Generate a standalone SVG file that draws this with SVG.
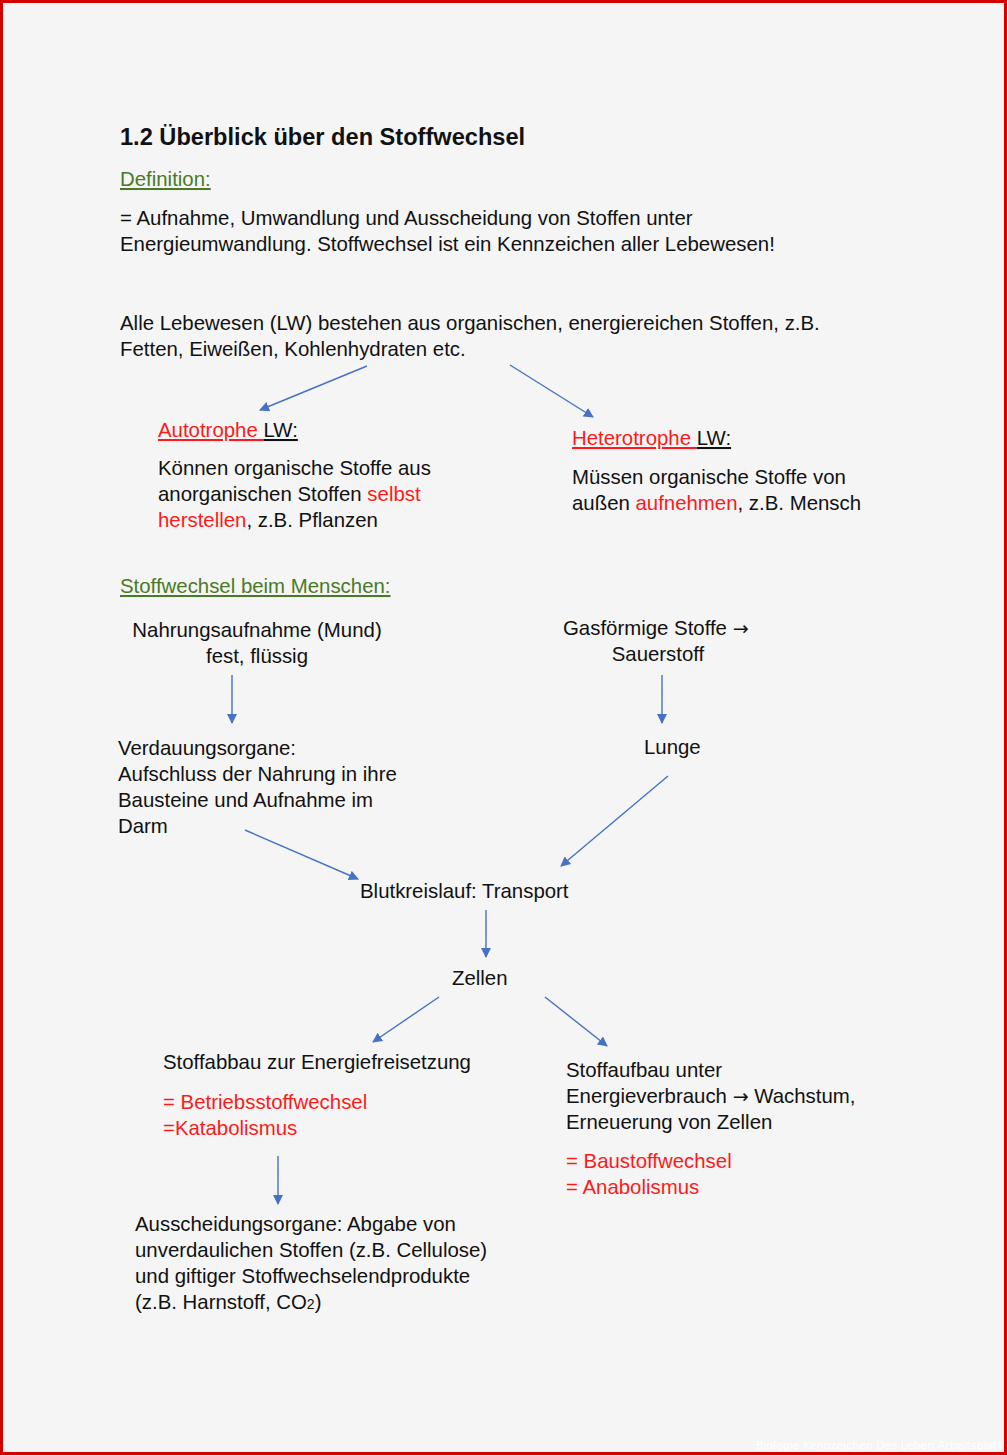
<svg xmlns="http://www.w3.org/2000/svg" width="1007" height="1455" viewBox="0 0 1007 1455">
<defs>
<marker id="ah" viewBox="0 0 10 10" refX="9" refY="5" markerWidth="10" markerHeight="10" markerUnits="userSpaceOnUse" orient="auto">
<path d="M0,0 L10,5 L0,10 Z" fill="#4472c4"/>
</marker>
<style>
text{font-family:"Liberation Sans",Arial,sans-serif;font-size:20.4px;fill:#111}
.t{font-weight:bold;font-size:23.6px}
.g{fill:#4a7a28;text-decoration:underline}
.r{fill:#ff1a1a}
.u{text-decoration:underline}
.m{text-anchor:middle}
.a{font-family:"DejaVu Sans",sans-serif;font-size:19px}
.c line{stroke:#4472c4;stroke-width:1.4;marker-end:url(#ah)}
</style>
</defs>
<rect x="0" y="0" width="1007" height="1455" fill="#f5f5f5"/>
<rect x="1.5" y="1.5" width="1004" height="1452" fill="none" stroke="#d40000" stroke-width="3"/>
<g id="header">
<text class="t" x="120" y="145">1.2 Überblick über den Stoffwechsel</text>
<text class="g" x="120" y="186">Definition:</text>
<text x="120" y="225">= Aufnahme, Umwandlung und Ausscheidung von Stoffen unter</text>
<text x="120" y="251">Energieumwandlung. Stoffwechsel ist ein Kennzeichen aller Lebewesen!</text>
</g>
<g id="lebewesen">
<text x="120" y="330">Alle Lebewesen (LW) bestehen aus organischen, energiereichen Stoffen, z.B.</text>
<text x="120" y="356">Fetten, Eiweißen, Kohlenhydraten etc.</text>
</g>
<g id="autotrophe">
<text x="158" y="437"><tspan class="r u">Autotrophe </tspan><tspan class="u">LW:</tspan></text>
<text x="158" y="475">Können organische Stoffe aus</text>
<text x="158" y="501">anorganischen Stoffen <tspan class="r">selbst</tspan></text>
<text x="158" y="527"><tspan class="r">herstellen</tspan>, z.B. Pflanzen</text>
</g>
<g id="heterotrophe">
<text x="572" y="445"><tspan class="r u">Heterotrophe </tspan><tspan class="u">LW:</tspan></text>
<text x="572" y="484">Müssen organische Stoffe von</text>
<text x="572" y="510">außen <tspan class="r">aufnehmen</tspan>, z.B. Mensch</text>
</g>
<g id="menschen">
<text class="g" x="120" y="593">Stoffwechsel beim Menschen:</text>
</g>
<g id="nahrung">
<text class="m" x="257" y="637">Nahrungsaufnahme (Mund)</text>
<text class="m" x="257" y="663">fest, flüssig</text>
</g>
<g id="gas">
<text x="563" y="635">Gasförmige Stoffe <tspan class="a">→</tspan></text>
<text class="m" x="658" y="661">Sauerstoff</text>
</g>
<g id="lunge">
<text x="644" y="754">Lunge</text>
</g>
<g id="verdauung">
<text x="118" y="755">Verdauungsorgane:</text>
<text x="118" y="781">Aufschluss der Nahrung in ihre</text>
<text x="118" y="807">Bausteine und Aufnahme im</text>
<text x="118" y="833">Darm</text>
</g>
<g id="blut">
<text x="360" y="898">Blutkreislauf: Transport</text>
</g>
<g id="zellen">
<text x="452" y="985">Zellen</text>
</g>
<g id="abbau">
<text x="163" y="1069">Stoffabbau zur Energiefreisetzung</text>
<text class="r" x="163" y="1109">= Betriebsstoffwechsel</text>
<text class="r" x="163" y="1135">=Katabolismus</text>
</g>
<g id="aufbau">
<text x="566" y="1077">Stoffaufbau unter</text>
<text x="566" y="1103">Energieverbrauch <tspan class="a">→</tspan> Wachstum,</text>
<text x="566" y="1129">Erneuerung von Zellen</text>
<text class="r" x="566" y="1168">= Baustoffwechsel</text>
<text class="r" x="566" y="1194">= Anabolismus</text>
</g>
<g id="ausscheidung">
<text x="135" y="1231">Ausscheidungsorgane: Abgabe von</text>
<text x="135" y="1257">unverdaulichen Stoffen (z.B. Cellulose)</text>
<text x="135" y="1283">und giftiger Stoffwechselendprodukte</text>
<text x="135" y="1309">(z.B. Harnstoff, CO<tspan font-size="14px">2</tspan>)</text>
</g>
<g class="c" id="connectors">
<line x1="367" y1="366" x2="260" y2="410"/>
<line x1="510" y1="365" x2="593" y2="417"/>
<line x1="232" y1="675" x2="232" y2="723"/>
<line x1="662" y1="675" x2="662" y2="723"/>
<line x1="245" y1="830" x2="358" y2="879"/>
<line x1="668" y1="776" x2="561" y2="866"/>
<line x1="486" y1="910" x2="486" y2="957"/>
<line x1="439" y1="997" x2="373" y2="1042"/>
<line x1="545" y1="997" x2="607" y2="1046"/>
<line x1="278" y1="1156" x2="278" y2="1204"/>
</g>
<text x="1002" y="1449" text-anchor="end" style="font-family:'DejaVu Sans',sans-serif;font-size:11px;fill:#ffffff">Biologie Kennzeichen Des Leben Arbeitsblatt</text>
</svg>
